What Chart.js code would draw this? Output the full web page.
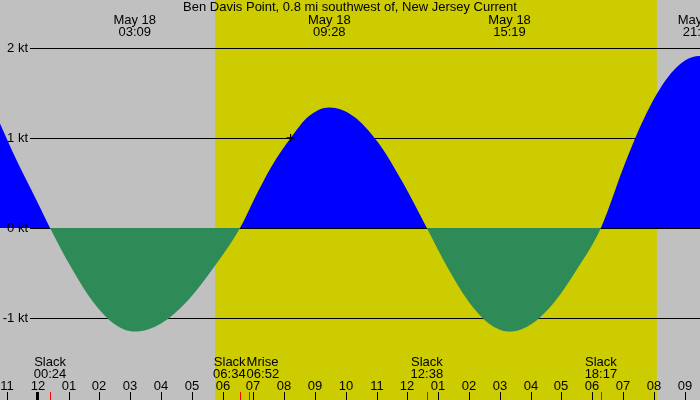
<!DOCTYPE html>
<html>
<head>
<meta charset="utf-8">
<script src="https://cdn.jsdelivr.net/npm/chart.js@4/dist/chart.umd.min.js"></script>
<style>
  body { margin: 0; background: #c0c0c0; }
  canvas { display: block; }
</style>
</head>
<body>
<canvas id="chart" width="700" height="400"></canvas>
<script>
// hours since midnight May 18 (negative = May 17)
const flowHours = [-1.224, -0.82, -0.41, 0, 0.4,
  1.088, 1.775, 2.463, 3.15, 4.004, 4.859, 5.713, 6.567,
  7.055, 7.6, 8.21, 8.79, 9.467, 10.259, 11.05, 11.842, 12.633,
  13.304, 13.975, 14.646, 15.317, 16.059, 16.8, 17.542, 18.283,
  19.079, 19.875, 20.671, 21.467, 21.5];
// current speed in knots (flood +, ebb -)
const flowKnots = [1.16, 0.85, 0.56, 0.28, 0,
  -0.44, -0.81, -1.06, -1.15, -1.06, -0.81, -0.44, 0,
  0.34, 0.69, 1.0, 1.24, 1.34, 1.24, 0.95, 0.51, 0,
  -0.44, -0.81, -1.06, -1.15, -1.06, -0.81, -0.44, 0,
  0.73, 1.35, 1.76, 1.91, 1.91];

const gridKnots = [2, 1, 0, -1];
const gridLabels = ["2 kt", "1 kt", "0 kt", "-1 kt"];

const hourTicks = [-1, 0, 1, 2, 3, 4, 5, 6, 7, 8, 9, 10, 11, 12, 13, 14, 15, 16, 17, 18, 19, 20, 21];
const hourLabels = ["11", "12", "01", "02", "03", "04", "05", "06", "07", "08", "09", "10",
  "11", "12", "01", "02", "03", "04", "05", "06", "07", "08", "09"];

const peakHours = [3.15, 9.467, 15.317, 21.467];
const peakTimes = ["03:09", "09:28", "15:19", "21:28"];

const eventHours = [0.4, 6.567, 6.867, 12.633, 18.283];
const eventNames = ["Slack", "Slack", "Mrise", "Slack", "Slack"];
const eventTimes = ["00:24", "06:34", "06:52", "12:38", "18:17"];

const sunrise = 5.757;
const sunset = 20.1;

const nowHour = 8.21;
const nowKnots = 1.0;

const title = "Ben Davis Point, 0.8 mi southwest of, New Jersey Current";
const FONT = "'Liberation Sans', Arial, sans-serif";

const backdrop = {
  id: "backdrop",
  beforeDatasetsDraw(chart) {
    const { ctx, scales: { x, y }, width, height } = chart;
    ctx.save();
    ctx.fillStyle = "#c0c0c0";
    ctx.fillRect(0, 0, width, height);
    ctx.fillStyle = "#cccc00";
    const x0 = x.getPixelForValue(sunrise), x1 = x.getPixelForValue(sunset);
    ctx.fillRect(x0, 0, x1 - x0, height);

    ctx.strokeStyle = "#000";
    ctx.lineWidth = 1;
    gridKnots.forEach(k => {
      const py = Math.round(y.getPixelForValue(k)) + 0.5;
      ctx.beginPath();
      ctx.moveTo(30, py);
      ctx.lineTo(width, py);
      ctx.stroke();
    });
    ctx.restore();
  },
  afterDatasetsDraw(chart) {
    const { ctx, scales: { x, y }, width } = chart;

    // make sure the "now" marker sits on top of the fill
    chart.getDatasetMeta(1).data.forEach(pt => pt.draw(ctx, chart.chartArea));

    ctx.save();
    ctx.fillStyle = "#000";
    ctx.textBaseline = "middle";

    // y labels
    ctx.font = "13px " + FONT;
    ctx.textAlign = "right";
    gridKnots.forEach((k, i) => {
      ctx.fillText(gridLabels[i], 28, y.getPixelForValue(k));
    });

    // title
    ctx.textAlign = "center";
    ctx.fillText(title, width / 2, 7);

    // peak labels
    peakHours.forEach((h, i) => {
      const px = x.getPixelForValue(h);
      ctx.fillText("May 18", px, 20);
      ctx.fillText(peakTimes[i], px, 32);
    });

    // event labels
    eventHours.forEach((h, i) => {
      let px = x.getPixelForValue(h);
      ctx.textAlign = "center";
      if (eventNames[i] === "Slack" && eventNames[i + 1] === "Mrise") {
        ctx.textAlign = "right";
        px = (px + x.getPixelForValue(eventHours[i + 1])) / 2 + 1;
      } else if (eventNames[i] === "Mrise") {
        ctx.textAlign = "left";
        px = (px + x.getPixelForValue(eventHours[i - 1])) / 2 + 2;
      }
      ctx.fillText(eventNames[i], px, 362);
      ctx.fillText(eventTimes[i], px, 374);
    });

    // hour labels and ticks
    ctx.textAlign = "center";
    hourTicks.forEach((h, i) => {
      const px = Math.round(x.getPixelForValue(h));
      ctx.fillText(hourLabels[i], px, 386);
      ctx.fillRect(h === 0 ? px - 2 : px, 392, h === 0 ? 3 : 1, 8);
    });
    ctx.fillStyle = "#ff0000";
    eventHours.forEach(h => {
      const px = Math.round(x.getPixelForValue(h));
      ctx.fillRect(px, 392, 1, 8);
    });
    ctx.restore();
  }
};

new Chart(document.getElementById("chart"), {
  type: "line",
  data: {
    datasets: [
      {
        data: flowHours.map((h, i) => ({ x: h, y: flowKnots[i] })),
        order: 1,
        borderWidth: 0,
        borderColor: "rgba(0,0,0,0)",
        pointRadius: 0,
        cubicInterpolationMode: "monotone",
        fill: { target: "origin", above: "#0000ff", below: "#2e8b57" }
      },
      {
        data: [{ x: nowHour, y: nowKnots }],
        order: 0,
        showLine: false,
        fill: false,
        pointStyle: "cross",
        pointRadius: 4,
        pointBorderColor: "#000",
        pointBackgroundColor: "#000",
        pointBorderWidth: 1
      }
    ]
  },
  options: {
    responsive: false,
    animation: false,
    devicePixelRatio: 1,
    layout: { padding: 0, autoPadding: false },
    plugins: { legend: { display: false }, tooltip: { enabled: false } },
    scales: {
      x: { type: "linear", min: -1.224, max: 21.5, display: false },
      y: { min: -1.911, max: 2.533, display: false }
    }
  },
  plugins: [backdrop]
});
</script>
</body>
</html>
